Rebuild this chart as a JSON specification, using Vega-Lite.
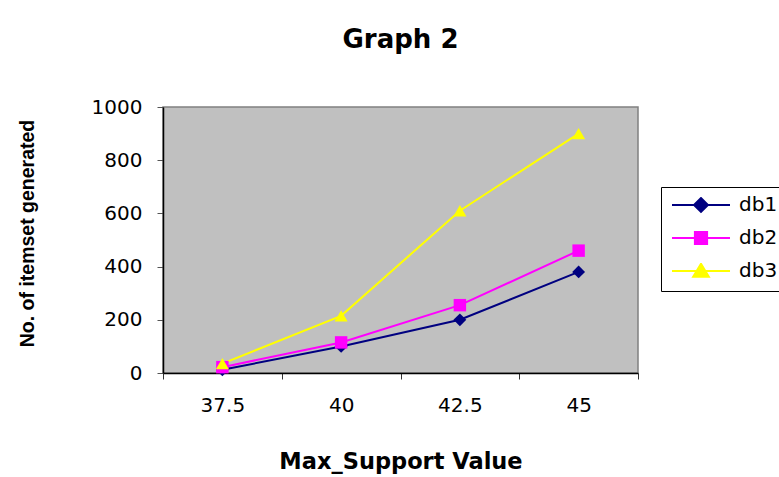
{
  "$schema": "https://vega.github.io/schema/vega-lite/v6.json",
  "width": 475,
  "height": 266,
  "autosize": {"type": "none"},
  "padding": {"left": 163, "top": 107, "right": 141, "bottom": 104},
  "background": "white",
  "title": {
    "text": "Graph 2",
    "font": "DejaVu Sans",
    "fontSize": 26,
    "fontWeight": "bold",
    "color": "black",
    "anchor": "middle",
    "baseline": "alphabetic",
    "offset": 23
  },
  "data": {
    "values": [
      {"support": 37.5, "db": "db1", "count": 12},
      {"support": 40, "db": "db1", "count": 100},
      {"support": 42.5, "db": "db1", "count": 200},
      {"support": 45, "db": "db1", "count": 380},
      {"support": 37.5, "db": "db2", "count": 22},
      {"support": 40, "db": "db2", "count": 115},
      {"support": 42.5, "db": "db2", "count": 255},
      {"support": 45, "db": "db2", "count": 460},
      {"support": 37.5, "db": "db3", "count": 35},
      {"support": 40, "db": "db3", "count": 215},
      {"support": 42.5, "db": "db3", "count": 610},
      {"support": 45, "db": "db3", "count": 900}
    ]
  },
  "encoding": {
    "x": {
      "field": "support",
      "type": "ordinal",
      "scale": {"type": "band", "paddingInner": 0, "paddingOuter": 0},
      "bandPosition": 0.5,
      "axis": {
        "title": "Max_Support Value",
        "titleFont": "DejaVu Sans",
        "titleFontSize": 22.5,
        "titleFontWeight": "bold",
        "titleColor": "black",
        "titlePadding": 35,
        "labelFont": "DejaVu Sans",
        "labelFontSize": 20,
        "labelColor": "black",
        "labelAngle": 0,
        "labelPadding": 16,
        "tickBand": "extent",
        "tickSize": 6,
        "tickColor": "#333333",
        "domainColor": "black",
        "domainWidth": 1.5,
        "grid": false
      }
    },
    "y": {
      "field": "count",
      "type": "quantitative",
      "scale": {"domain": [0, 1000], "nice": false},
      "axis": {
        "values": [0, 200, 400, 600, 800, 1000],
        "format": "d",
        "title": "No. of itemset generated",
        "titleFont": "Liberation Sans",
        "titleFontSize": 19.5,
        "titleFontWeight": "bold",
        "titleColor": "black",
        "titleAngle": 270,
        "titleAlign": "center",
        "titleBaseline": "alphabetic",
        "titleX": -130,
        "titleY": 126,
        "labelFont": "DejaVu Sans",
        "labelFontSize": 20,
        "labelColor": "black",
        "labelPadding": 15,
        "tickSize": 6,
        "tickColor": "#555555",
        "domainColor": "black",
        "domainWidth": 1.5,
        "grid": false
      }
    },
    "color": {
      "field": "db",
      "type": "nominal",
      "scale": {"domain": ["db1", "db2", "db3"], "range": ["#000080", "#FF00FF", "#FFFF00"]},
      "legend": {
        "title": null,
        "orient": "none",
        "legendX": 498,
        "legendY": 80,
        "padding": 10,
        "strokeColor": "black",
        "fillColor": "white",
        "cornerRadius": 0,
        "symbolSize": 3364,
        "clipHeight": 16,
        "rowPadding": 13,
        "labelOffset": 8,
        "labelFont": "DejaVu Sans",
        "labelFontSize": 20,
        "labelColor": "black",
        "symbolType": {"expr": "datum.value === 'db1' ? 'M-1,0H1M-0.24,0L0,-0.24L0.24,0L0,0.24Z' : datum.value === 'db2' ? 'M-1,0H1M-0.21,-0.21H0.21V0.21H-0.21Z' : 'M-1,0H1M0,-0.25L0.27,0.2H-0.27Z'"},
        "symbolFillColor": {"expr": "scale('color', datum.value)"},
        "symbolStrokeColor": {"expr": "scale('color', datum.value)"},
        "symbolStrokeWidth": 2,
        "symbolOpacity": 1
      }
    }
  },
  "layer": [
    {"mark": {"type": "line", "strokeWidth": 2}},
    {
      "transform": [{"filter": "datum.db === 'db1'"}],
      "mark": {"type": "point", "shape": "diamond", "filled": true, "opacity": 1, "size": 165}
    },
    {
      "transform": [{"filter": "datum.db === 'db2'"}],
      "mark": {"type": "point", "shape": "square", "filled": true, "opacity": 1, "size": 155}
    },
    {
      "transform": [{"filter": "datum.db === 'db3'"}],
      "mark": {"type": "point", "shape": "triangle-up", "filled": true, "opacity": 1, "size": 170}
    }
  ],
  "config": {
    "view": {"fill": "#C0C0C0", "stroke": "#808080", "strokeWidth": 1.5}
  }
}
